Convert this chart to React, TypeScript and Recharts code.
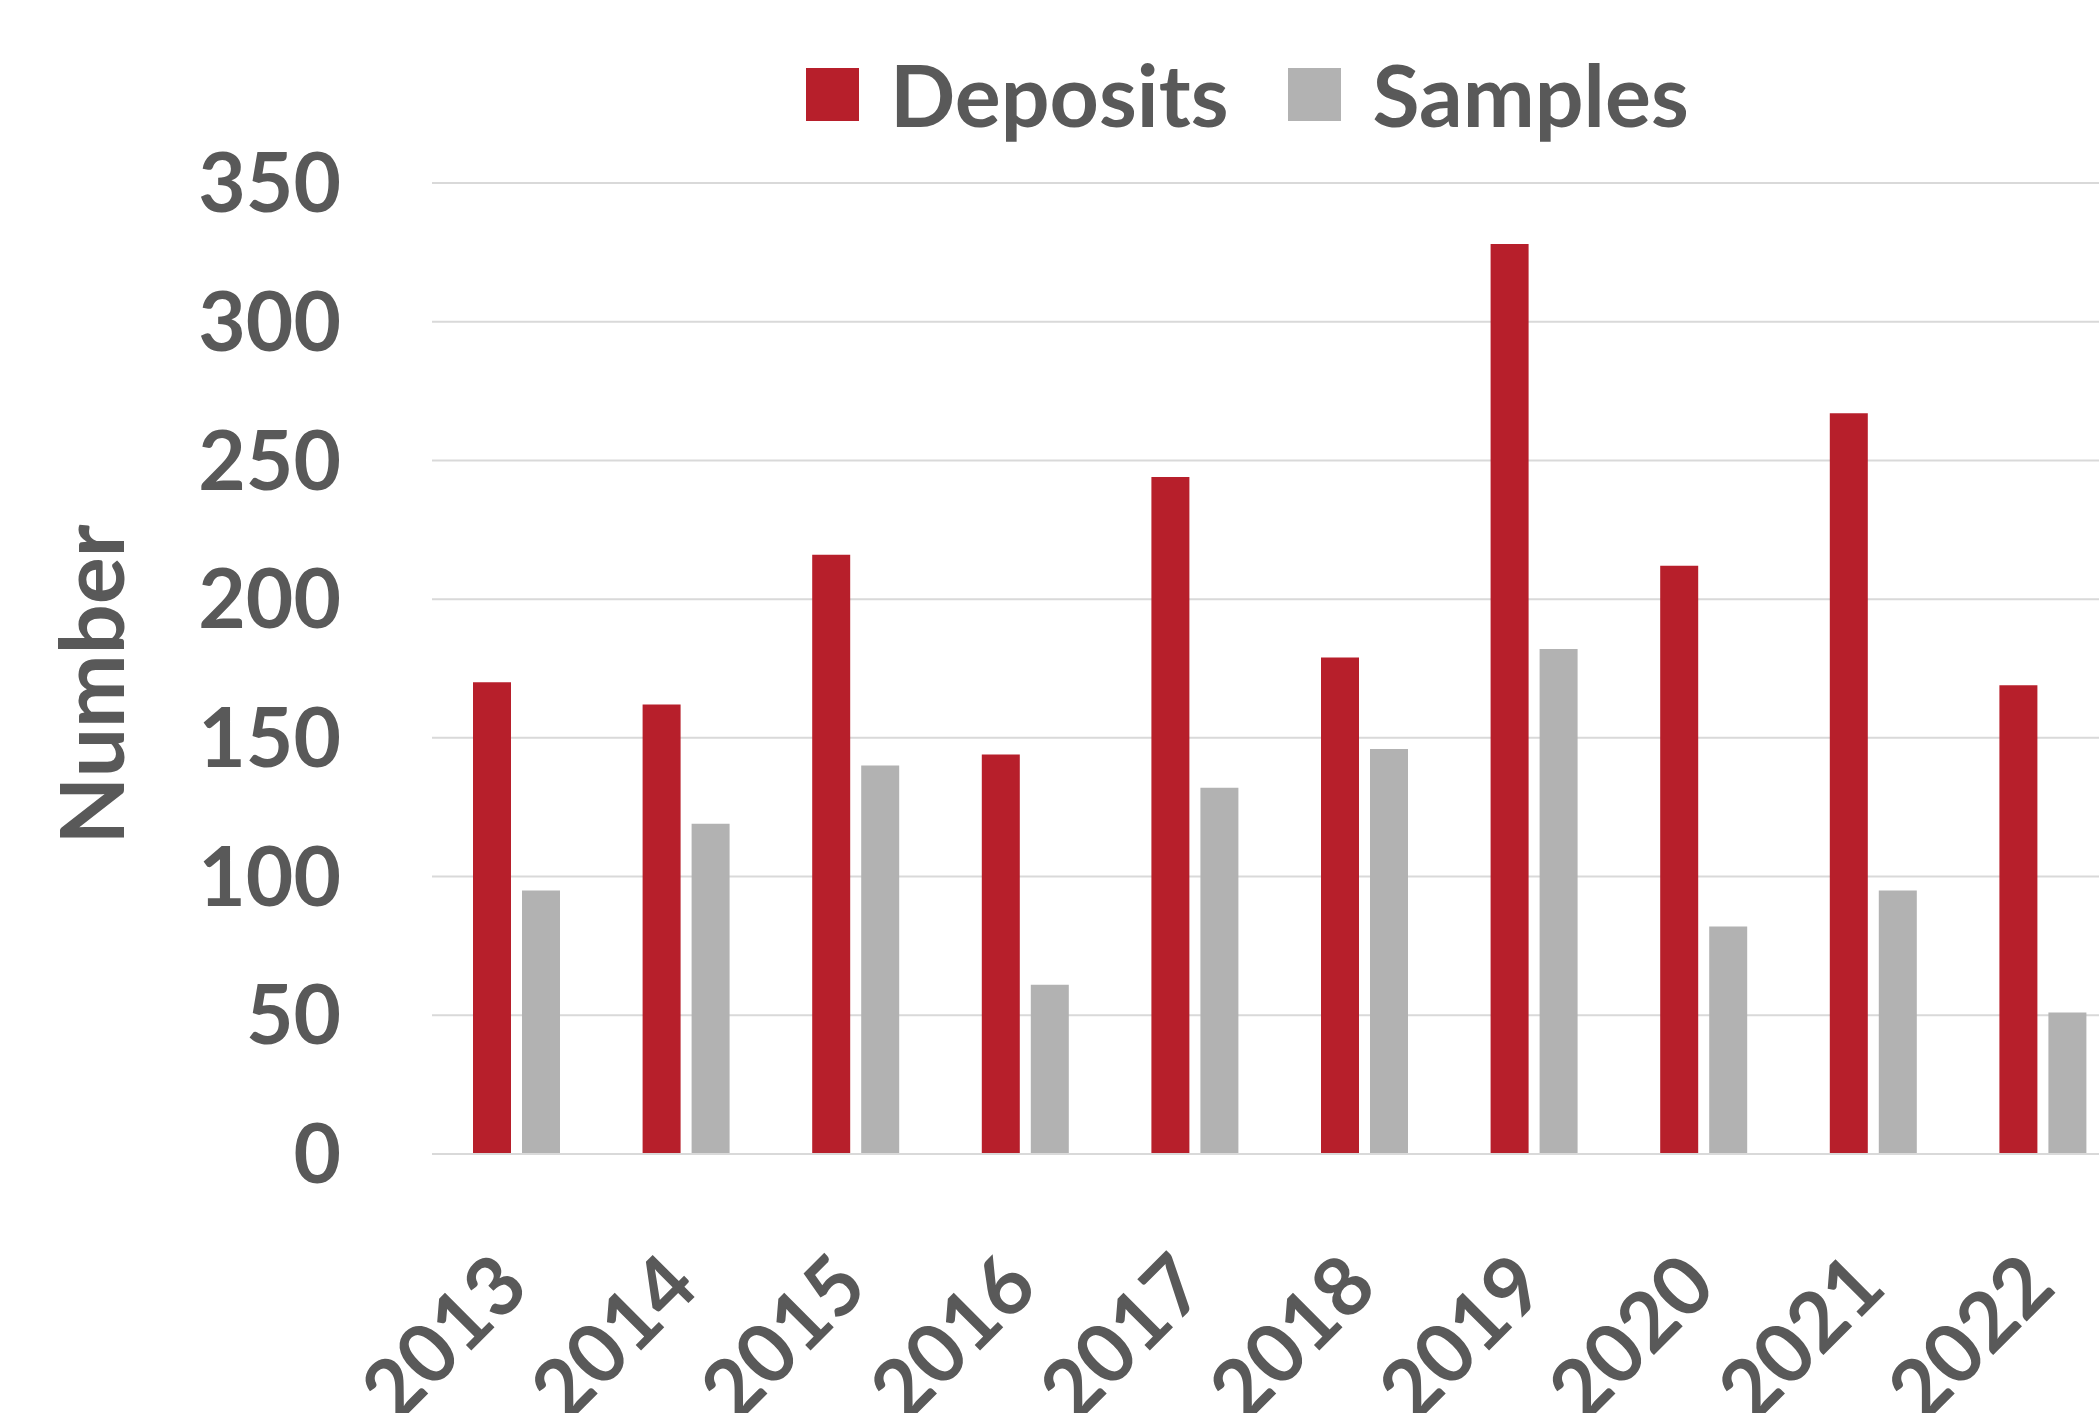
import { Bar, BarChart, CartesianGrid, Label, XAxis, YAxis } from "recharts";

const years = ["2013", "2014", "2015", "2016", "2017", "2018", "2019", "2020", "2021", "2022"];
const deposits = [170, 162, 216, 144, 244, 179, 328, 212, 267, 169];
const samples = [95, 119, 140, 61, 132, 146, 182, 82, 95, 51];
const yTicks = [0, 50, 100, 150, 200, 250, 300, 350];

const data = years.map((year, i) => ({ year, deposits: deposits[i], samples: samples[i] }));

const RED = "#b71f2b";
const GRAY = "#b2b2b2";
const TEXT = "#595959";
const FONT = "Lato, 'Open Sans', sans-serif";

const legendItems = [
  { name: "Deposits", color: RED },
  { name: "Samples", color: GRAY },
];

function YearTick({ x, y, payload }: any) {
  const ax = x + 15;
  const ay = y + 136;
  return (
    <text
      x={ax}
      y={ay}
      transform={`rotate(-45, ${ax}, ${ay})`}
      textAnchor="end"
      fill={TEXT}
      fontSize={82}
      fontWeight={700}
      fontFamily={FONT}
    >
      {payload.value}
    </text>
  );
}

function LegendBox() {
  return (
    <div
      style={{
        position: "absolute",
        top: 51,
        left: 806,
        display: "flex",
        alignItems: "center",
        fontFamily: FONT,
        fontWeight: 700,
        fontSize: 86,
        color: TEXT,
      }}
    >
      {legendItems.map((it) => (
        <div key={it.name} style={{ display: "flex", alignItems: "center", marginRight: 60 }}>
          <span style={{ display: "inline-block", width: 53, height: 53, background: it.color, marginRight: 31 }} />
          <span style={{ lineHeight: 1 }}>{it.name}</span>
        </div>
      ))}
    </div>
  );
}

function AxisTitle({ viewBox }: any) {
  const cx = viewBox.x + 90;
  const cy = viewBox.y + viewBox.height / 2 + 16;
  return (
    <text
      x={cx}
      y={cy}
      transform={`rotate(-90, ${cx}, ${cy})`}
      textAnchor="middle"
      dominantBaseline="central"
      fill={TEXT}
      fontSize={88}
      fontWeight={700}
      fontFamily={FONT}
    >
      Number
    </text>
  );
}

export default function App() {
  return (
    <div style={{ position: "fixed", left: 0, top: 0, width: 2099, height: 1413, overflow: "hidden", background: "#fff" }}>
      <BarChart
        width={2140}
        height={1413}
        data={data}
        margin={{ top: 183, right: 12, left: 0, bottom: 59 }}
        barSize={38}
        barGap={11}
      >
        <CartesianGrid vertical={false} stroke="#d9d9d9" strokeWidth={2} />
        <XAxis
          dataKey="year"
          height={200}
          tickLine={false}
          axisLine={{ stroke: "#d9d9d9", strokeWidth: 2 }}
          tickSize={0}
          tickMargin={0}
          interval={0}
          tick={<YearTick />}
        />
        <YAxis
          width={432}
          domain={[0, 350]}
          ticks={yTicks}
          axisLine={false}
          tickLine={false}
          tickSize={0}
          tickMargin={91}
          tick={{ fill: TEXT, fontSize: 82, fontWeight: 700, fontFamily: FONT }}
        >
          <Label content={<AxisTitle />} />
        </YAxis>
        <Bar dataKey="deposits" name="Deposits" fill={RED} isAnimationActive={false} />
        <Bar dataKey="samples" name="Samples" fill={GRAY} isAnimationActive={false} />
      </BarChart>
      <LegendBox />
    </div>
  );
}
